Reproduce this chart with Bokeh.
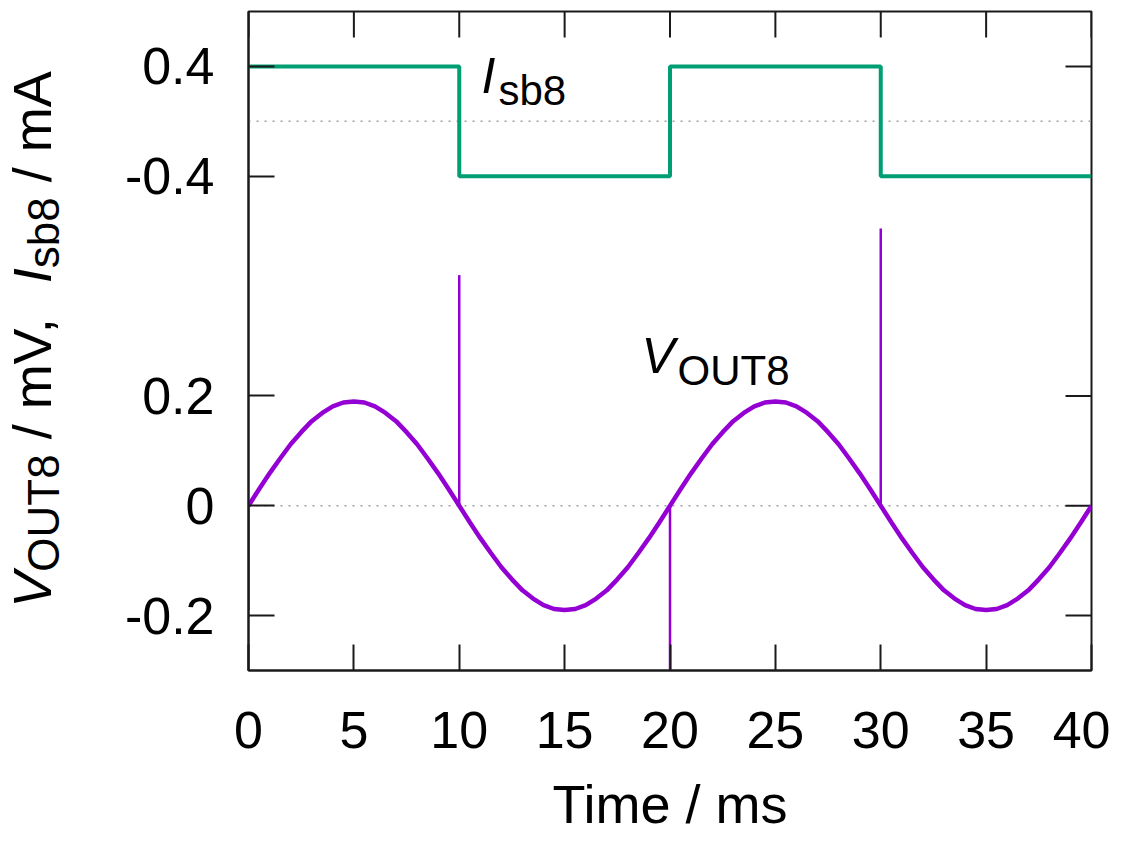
import math
from bokeh.plotting import figure
from bokeh.layouts import row
from bokeh.models import Range1d, FixedTicker, Span, Label
from bokeh.embed import file_html
from bokeh.resources import INLINE

# ---------------- data ----------------
time_ms = [0.0, 0.5, 1.0, 1.5, 2.0, 2.5, 3.0, 3.5, 4.0, 4.5,
           5.0, 5.5, 6.0, 6.5, 7.0, 7.5, 8.0, 8.5, 9.0, 9.5,
           10.0, 10.5, 11.0, 11.5, 12.0, 12.5, 13.0, 13.5, 14.0, 14.5,
           15.0, 15.5, 16.0, 16.5, 17.0, 17.5, 18.0, 18.5, 19.0, 19.5,
           20.0, 20.5, 21.0, 21.5, 22.0, 22.5, 23.0, 23.5, 24.0, 24.5,
           25.0, 25.5, 26.0, 26.5, 27.0, 27.5, 28.0, 28.5, 29.0, 29.5,
           30.0, 30.5, 31.0, 31.5, 32.0, 32.5, 33.0, 33.5, 34.0, 34.5,
           35.0, 35.5, 36.0, 36.5, 37.0, 37.5, 38.0, 38.5, 39.0, 39.5,
           40.0]
vout_mv = [0.000, 0.030, 0.059, 0.086, 0.112, 0.134, 0.154, 0.169, 0.181, 0.188,
           0.190, 0.188, 0.181, 0.169, 0.154, 0.134, 0.112, 0.086, 0.059, 0.030,
           0.000, -0.030, -0.059, -0.086, -0.112, -0.134, -0.154, -0.169, -0.181, -0.188,
           -0.190, -0.188, -0.181, -0.169, -0.154, -0.134, -0.112, -0.086, -0.059, -0.030,
           0.000, 0.030, 0.059, 0.086, 0.112, 0.134, 0.154, 0.169, 0.181, 0.188,
           0.190, 0.188, 0.181, 0.169, 0.154, 0.134, 0.112, 0.086, 0.059, 0.030,
           0.000, -0.030, -0.059, -0.086, -0.112, -0.134, -0.154, -0.169, -0.181, -0.188,
           -0.190, -0.188, -0.181, -0.169, -0.154, -0.134, -0.112, -0.086, -0.059, -0.030,
           0.000]
spike_t = [0.0, 10.0, 20.0, 30.0]
spike_base = [0.0, 0.0, 0.0, 0.0]
spike_mv = [-0.19, 0.42, -0.32, 0.505]
isb_t = [0.0, 10.0, 20.0, 30.0, 40.0]
isb_ma = [0.4, -0.4, 0.4, -0.4, -0.4]

x_ticks = [0, 5, 10, 15, 20, 25, 30, 35, 40]
y_ticks = [-0.2, 0.0, 0.2, 0.6, 0.8]
y_tick_labels = {-0.2: "-0.2", 0.0: "0", 0.2: "0.2", 0.6: "-0.4", 0.8: "0.4"}
x_title = "Time / ms"

# ---------------- style ----------------
FONT = "Liberation Sans"
AX = "#1a1a1a"
GREEN = "#009e73"
PURPLE = "#9400d3"
TICK_FS = "52px"

LEFT_W = 100          # width of the panel that holds the rotated y title
MAIN_W, MAIN_H = 1010, 837
B_TOP, B_BOTTOM = 11, 167
Y_RANGE = (-0.3, 0.9)

p = figure(width=MAIN_W, height=MAIN_H,
           x_range=Range1d(0, 40), y_range=Range1d(*Y_RANGE),
           output_backend="svg", toolbar_location=None,
           min_border_left=148, min_border_right=19,
           min_border_top=B_TOP, min_border_bottom=B_BOTTOM)
p.extra_y_ranges = {"isb": Range1d(-4.0, 0.8)}
p.xgrid.visible = False
p.ygrid.visible = False
p.outline_line_color = AX
p.outline_line_width = 2
p.border_fill_color = "white"


def style_axis(ax, standoff):
    ax.axis_line_color = AX
    ax.axis_line_width = 2
    ax.major_tick_line_color = AX
    ax.major_tick_line_width = 2
    ax.major_tick_in = 26
    ax.major_tick_out = 0
    ax.minor_tick_line_color = None
    ax.major_label_text_font = FONT
    ax.major_label_text_font_size = TICK_FS
    ax.major_label_text_color = "black"
    ax.major_label_standoff = standoff


xa = p.xaxis[0]
xa.ticker = FixedTicker(ticks=x_ticks)
style_axis(xa, 41)
xa.axis_label = x_title
xa.axis_label_text_font = FONT
xa.axis_label_text_font_size = "54px"
xa.axis_label_text_font_style = "normal"
xa.axis_label_text_color = "black"
xa.axis_label_standoff = 23

ya = p.yaxis[0]
ya.ticker = FixedTicker(ticks=y_ticks)
ya.major_label_overrides = y_tick_labels
style_axis(ya, 34)

# mirrored inward ticks on the top and right frame edges
p.ray(x=x_ticks, y=p.y_range.end, length=26, length_units="screen",
      angle=-math.pi / 2, line_color=AX, line_width=2)
p.ray(x=p.x_range.end, y=y_ticks, length=26, length_units="screen",
      angle=math.pi, line_color=AX, line_width=2)

# dotted zero lines
for loc in (0.0, 0.7):
    p.add_layout(Span(location=loc, dimension="width", line_color="#a0a0a0",
                      line_dash="2 6", line_width=1.5, level="underlay"))

# data
p.step(isb_t, isb_ma, mode="after", line_color=GREEN, line_width=4,
       y_range_name="isb")
p.line(time_ms, vout_mv, line_color=PURPLE, line_width=4.5)
p.segment(x0=spike_t, y0=spike_base, x1=spike_t, y1=spike_mv,
          line_color=PURPLE, line_width=2.5)

# ---------------- text helpers ----------------
SX = 843 / 40.0      # px per ms
SY = 659 / 1.2       # px per mV
X0, Y0 = 248.0, 505.0
K = 0.4              # Bokeh's "alphabetic" anchor sits ~0.4 em above the baseline


def dx(px):
    return (px - X0) / SX


def dy(py):
    return (Y0 - py) / SY


def lab(fig, x, y, text, size, italic=False, angle=0.0, align="left"):
    fig.add_layout(Label(x=x, y=y, text=text, text_font=FONT,
                         text_font_size=f"{size}px",
                         text_font_style="italic" if italic else "normal",
                         text_color="black", text_align=align,
                         text_baseline="alphabetic", angle=angle))


def plot_text(px, base_py, text, size, italic=False):
    lab(p, dx(px), dy(base_py - K * size), text, size, italic=italic)


plot_text(481, 95, "I", 50, italic=True)
plot_text(498, 107, "sb8", 42)
plot_text(641, 375, "V", 50, italic=True)
plot_text(677, 387, "OUT8", 42)

# ---------------- rotated y title (own panel, frame aligned with main) ----------------
yl = figure(width=LEFT_W, height=MAIN_H, x_range=Range1d(0, LEFT_W),
            y_range=Range1d(*Y_RANGE), output_backend="svg",
            toolbar_location=None, x_axis_location=None, y_axis_location=None,
            min_border_left=0, min_border_right=0,
            min_border_top=B_TOP, min_border_bottom=B_BOTTOM,
            outline_line_color=None)
yl.xgrid.visible = False
yl.ygrid.visible = False

W = {" ": 278, "/": 278, ",": 278, "A": 667, "I": 278, "O": 778, "T": 611,
     "U": 722, "V": 667, "b": 556, "m": 833, "s": 500, "8": 556}


def width(t, size):
    return sum(W[c] for c in t) * size / 1000.0


MAIN, SUB = 54, 44
pieces = [("V", MAIN, True, 0), ("OUT8", SUB, False, 8),
          (" / mV,  ", MAIN, False, 0), ("I", MAIN, True, 0),
          ("sb8", SUB, False, 8), (" / mA", MAIN, False, 0)]
pos = 607.0          # picture y where the title starts (bottom end)
base_x = 53.0        # picture x of the main baseline
for t, s, it, shift in pieces:
    stripped = t.lstrip(" ")
    pos -= width(t[:len(t) - len(stripped)], s)     # leading blanks
    lab(yl, base_x + shift - K * s, dy(pos), stripped, s, italic=it,
        angle=math.pi / 2)
    pos -= width(stripped, s)

layout = row(yl, p, spacing=0)
open("out.html", "w").write(file_html(layout, INLINE))
